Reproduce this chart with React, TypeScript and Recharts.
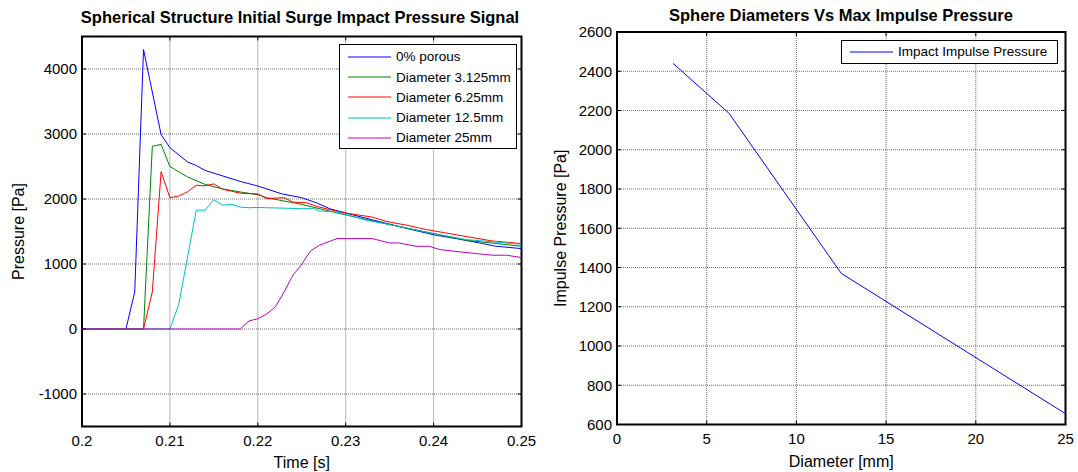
import React from 'react';
import { LineChart, Line, XAxis, YAxis, CartesianGrid, ReferenceArea, Legend, Label } from 'recharts';

const FONT = "'Liberation Sans', Arial, Helvetica, sans-serif";

// ---- left panel: initial surge impact pressure signal ----
const timeTicks = [0.2, 0.21, 0.22, 0.23, 0.24, 0.25];
const pressureTicks = [-1000, 0, 1000, 2000, 3000, 4000];

const porousTime = [0.2, 0.205, 0.206, 0.207, 0.209, 0.21, 0.212, 0.213, 0.214, 0.218, 0.22, 0.2227, 0.225, 0.2267, 0.2282, 0.23, 0.233, 0.237, 0.24, 0.2426, 0.2452, 0.247, 0.25];
const porousPressure = [0, 0, 570, 4300, 2990, 2790, 2570, 2515, 2440, 2270, 2200, 2080, 2020, 1940, 1850, 1785, 1680, 1545, 1450, 1390, 1325, 1275, 1237];

const d3Time = [0.2, 0.207, 0.208, 0.209, 0.21, 0.212, 0.214, 0.216, 0.218, 0.22, 0.221, 0.225, 0.2286, 0.2324, 0.236, 0.24, 0.2437, 0.25];
const d3Pressure = [0, 0, 2810, 2840, 2500, 2340, 2225, 2155, 2108, 2066, 2020, 1917, 1800, 1682, 1580, 1468, 1365, 1273];

const d6Time = [0.2, 0.207, 0.208, 0.209, 0.21, 0.211, 0.212, 0.213, 0.214, 0.215, 0.216, 0.217, 0.218, 0.22, 0.221, 0.223, 0.224, 0.2255, 0.2267, 0.2282, 0.23, 0.233, 0.2346, 0.237, 0.2392, 0.2414, 0.244, 0.2467, 0.25];
const d6Pressure = [0, 0, 570, 2420, 2020, 2045, 2110, 2212, 2202, 2232, 2150, 2120, 2090, 2078, 2008, 2020, 1952, 1943, 1887, 1836, 1784, 1722, 1656, 1595, 1529, 1477, 1416, 1354, 1314];

const d12Time = [0.2, 0.21, 0.211, 0.213, 0.214, 0.215, 0.216, 0.217, 0.218, 0.219, 0.22, 0.221, 0.225, 0.2265, 0.227, 0.229, 0.2324, 0.236, 0.24, 0.2437, 0.25];
const d12Pressure = [0, 0, 375, 1828, 1828, 1990, 1905, 1920, 1875, 1866, 1870, 1866, 1851, 1851, 1815, 1800, 1672, 1580, 1468, 1376, 1304];

const d25Time = [0.2, 0.218, 0.219, 0.22, 0.221, 0.222, 0.223, 0.224, 0.225, 0.226, 0.227, 0.228, 0.229, 0.233, 0.235, 0.236, 0.238, 0.2395, 0.2407, 0.243, 0.2467, 0.2483, 0.25];
const d25Pressure = [0, 0, 123, 158, 230, 342, 572, 828, 997, 1201, 1288, 1339, 1391, 1391, 1324, 1324, 1273, 1273, 1222, 1186, 1135, 1135, 1100];

const seriesNames = ['0% porous', 'Diameter 3.125mm', 'Diameter 6.25mm', 'Diameter 12.5mm', 'Diameter 25mm'];
const seriesColors = ['#0000ff', '#008000', '#ff0000', '#00bfbf', '#bf00bf'];

// ---- right panel: max impulse pressure per sphere diameter ----
const diameters = [3.125, 6.25, 12.5, 25];
const maxImpulse = [2440, 2185, 1370, 655];
const diameterTicks = [0, 5, 10, 15, 20, 25];
const impulseTicks = [600, 800, 1000, 1200, 1400, 1600, 1800, 2000, 2200, 2400, 2600];

const zip = (xs: number[], ys: number[]) => xs.map((x, i) => ({ x, y: ys[i] }));

const signals = [
  zip(porousTime, porousPressure),
  zip(d3Time, d3Pressure),
  zip(d6Time, d6Pressure),
  zip(d12Time, d12Pressure),
  zip(d25Time, d25Pressure),
];
const impulseData = zip(diameters, maxImpulse);

// plot boxes in chart coordinates
const LBOX = { left: 82, right: 521.5, top: 36.5, bottom: 426.5 };
const RBOX = { left: 77, right: 525.5, top: 32, bottom: 424.5 };

const makeXTick = (box: typeof LBOX) => (props: any) => {
  const { x, y, payload } = props;
  return (
    <g>
      <line x1={x} x2={x} y1={box.bottom} y2={box.bottom - 4} stroke="#000" />
      <line x1={x} x2={x} y1={box.top} y2={box.top + 4} stroke="#000" />
      <text x={x} y={y} dy="0.71em" textAnchor="middle" fontSize={15} fontFamily={FONT} fill="#000">
        {payload.value}
      </text>
    </g>
  );
};

const makeYTick = (box: typeof LBOX) => (props: any) => {
  const { x, y, payload } = props;
  return (
    <g>
      <line x1={box.left} x2={box.left + 4} y1={y} y2={y} stroke="#000" />
      <line x1={box.right} x2={box.right - 4} y1={y} y2={y} stroke="#000" />
      <text x={x} y={y} dy="0.35em" textAnchor="end" fontSize={15} fontFamily={FONT} fill="#000">
        {payload.value}
      </text>
    </g>
  );
};

const yTitle = (text: string, cx: number) => (props: any) => {
  const vb = props.viewBox || {};
  const cy = (vb.y ?? 0) + (vb.height ?? 0) / 2;
  return (
    <text x={cx} y={cy} transform={`rotate(-90 ${cx} ${cy})`} textAnchor="middle" dominantBaseline="central" fontSize={16} fontFamily={FONT} fill="#000">
      {text}
    </text>
  );
};

const LegendBox = ({ names, colors, width, rowH, pad }: { names: string[]; colors: string[]; width: number; rowH: number; pad: number }) => (
  <div style={{ width, border: '1px solid #000', background: '#fff', boxSizing: 'border-box', paddingTop: pad, fontFamily: FONT }}>
    {names.map((n, i) => (
      <div key={n} style={{ display: 'flex', alignItems: 'center', height: rowH }}>
        <svg width={52} height={4} style={{ flex: 'none' }}>
          <line x1={8} x2={51} y1={2} y2={2} stroke={colors[i]} strokeWidth={1} />
        </svg>
        <span style={{ marginLeft: 4, fontSize: 13.5, lineHeight: 1, color: '#000', whiteSpace: 'nowrap' }}>{n}</span>
      </div>
    ))}
  </div>
);

const titleStyle = (cx: number, top: number): React.CSSProperties => ({
  position: 'absolute',
  left: cx - 300,
  width: 600,
  top,
  textAlign: 'center',
  fontFamily: FONT,
  fontWeight: 'bold',
  fontSize: 16.5,
  lineHeight: 1,
  color: '#000',
});

export default function App() {
  return (
    <div style={{ position: 'absolute', left: 0, top: 0, width: 1078, height: 472, background: '#fff', fontFamily: FONT, overflow: 'hidden' }}>
      <div style={titleStyle(300, 9)}>Spherical Structure Initial Surge Impact Pressure Signal</div>
      <div style={titleStyle(841, 7)}>Sphere Diameters Vs Max Impulse Pressure</div>

      <div style={{ position: 'absolute', left: 0, top: 0 }}>
        <LineChart width={540} height={472} margin={{ top: LBOX.top, right: 540 - LBOX.right, bottom: 0, left: 0 }}>
          <CartesianGrid stroke="#6e6e6e" strokeDasharray="1 1" />
          <XAxis
            dataKey="x"
            type="number"
            domain={[0.2, 0.25]}
            ticks={timeTicks}
            interval={0}
            allowDataOverflow
            height={472 - LBOX.bottom}
            tickSize={6}
            tickMargin={3}
            tickLine={false}
            axisLine={false}
            tick={makeXTick(LBOX)}
          >
            <Label value="Time [s]" position="insideBottom" offset={4} fontSize={16} fontFamily={FONT} fill="#000" />
          </XAxis>
          <YAxis
            dataKey="y"
            type="number"
            domain={[-1500, 4500]}
            ticks={pressureTicks}
            interval={0}
            allowDataOverflow
            width={LBOX.left}
            tickSize={3}
            tickMargin={2}
            tickLine={false}
            axisLine={false}
            tick={makeYTick(LBOX)}
          >
            <Label content={yTitle('Pressure [Pa]', 18)} />
          </YAxis>
          {signals.map((s, i) => (
            <Line
              key={seriesNames[i]}
              data={s}
              dataKey="y"
              name={seriesNames[i]}
              type="linear"
              stroke={seriesColors[i]}
              strokeWidth={1}
              dot={false}
              activeDot={false}
              isAnimationActive={false}
            />
          ))}
          <ReferenceArea x1={0.2} x2={0.25} y1={-1500} y2={4500} fill="none" fillOpacity={0} stroke="#000" strokeOpacity={1} strokeWidth={2} ifOverflow="visible" />
          <Legend
            layout="horizontal"
            align="center"
            verticalAlign="middle"
            wrapperStyle={{ left: 339, top: 44, width: 178 }}
            content={() => <LegendBox names={seriesNames} colors={seriesColors} width={178} rowH={20.2} pad={2} />}
          />
        </LineChart>
      </div>

      <div style={{ position: 'absolute', left: 540, top: 0 }}>
        <LineChart width={538} height={472} margin={{ top: RBOX.top, right: 538 - RBOX.right, bottom: 0, left: 0 }}>
          <CartesianGrid stroke="#6e6e6e" strokeDasharray="1 1" />
          <XAxis
            dataKey="x"
            type="number"
            domain={[0, 25]}
            ticks={diameterTicks}
            interval={0}
            allowDataOverflow
            height={472 - RBOX.bottom}
            tickSize={6}
            tickMargin={3}
            tickLine={false}
            axisLine={false}
            tick={makeXTick(RBOX)}
          >
            <Label value="Diameter [mm]" position="insideBottom" offset={5} fontSize={16} fontFamily={FONT} fill="#000" />
          </XAxis>
          <YAxis
            dataKey="y"
            type="number"
            domain={[600, 2600]}
            ticks={impulseTicks}
            interval={0}
            allowDataOverflow
            width={RBOX.left}
            tickSize={3}
            tickMargin={2}
            tickLine={false}
            axisLine={false}
            tick={makeYTick(RBOX)}
          >
            <Label content={yTitle('Impulse Pressure [Pa]', 20)} />
          </YAxis>
          <Line
            data={impulseData}
            dataKey="y"
            name="Impact Impulse Pressure"
            type="linear"
            stroke="#0000ff"
            strokeWidth={1}
            dot={false}
            activeDot={false}
            isAnimationActive={false}
          />
          <ReferenceArea x1={0} x2={25} y1={600} y2={2600} fill="none" fillOpacity={0} stroke="#000" strokeOpacity={1} strokeWidth={2} ifOverflow="visible" />
          <Legend
            layout="horizontal"
            align="center"
            verticalAlign="middle"
            wrapperStyle={{ left: 301, top: 40, width: 217 }}
            content={() => <LegendBox names={['Impact Impulse Pressure']} colors={['#0000ff']} width={217} rowH={22} pad={0} />}
          />
        </LineChart>
      </div>
    </div>
  );
}
